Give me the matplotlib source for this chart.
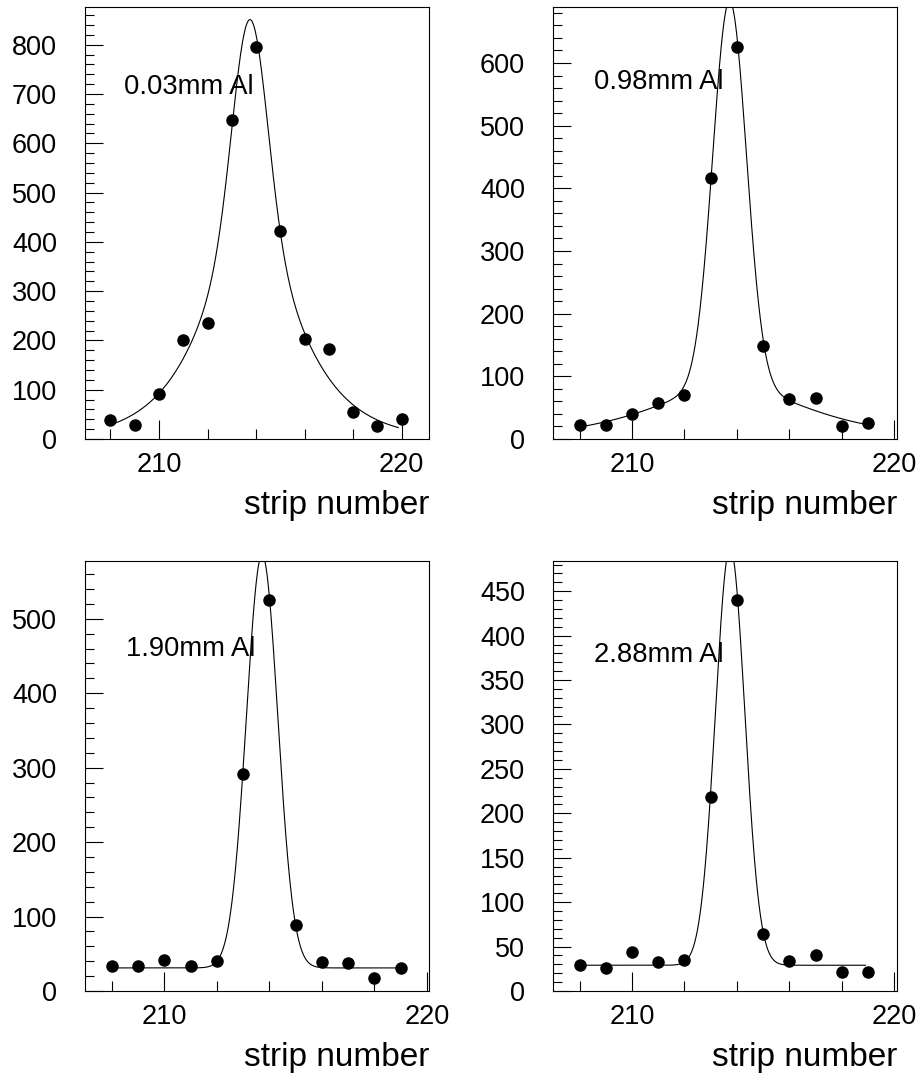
import numpy as np
import matplotlib
matplotlib.use("Agg")
import matplotlib.pyplot as plt
from matplotlib.ticker import MultipleLocator

plt.rcParams['font.family'] = ['Liberation Sans', 'DejaVu Sans']

# strip numbers
strips_long = [208, 209, 210, 211, 212, 213, 214, 215, 216, 217, 218, 219, 220]
strips_short = [208, 209, 210, 211, 212, 213, 214, 215, 216, 217, 218, 219]

# counts per strip for each absorber thickness
counts_003 = [38, 29, 92, 200, 235, 648, 796, 422, 203, 183, 55, 27, 41]
counts_098 = [23, 23, 40, 57, 70, 417, 626, 149, 64, 65, 20, 25]
counts_190 = [34, 33, 42, 33, 40, 291, 525, 89, 39, 37, 17, 31]
counts_288 = [29, 26, 44, 33, 35, 218, 440, 64, 34, 40, 21, 21]

labels = ["0.03mm Al", "0.98mm Al", "1.90mm Al", "2.88mm Al"]
label_y = [700, 559, 450, 370]

# fit: constant + gaussian (amp, mean, sigma) + sech tail (amp, width)
fit_const = [0, 0, 31, 29]
fit_gaus = [(420, 213.75, 0.70), (615, 213.72, 0.64),
            (555, 213.72, 0.60), (470, 213.74, 0.56)]
fit_tail = [(431, 1.69), (84, 2.65), (0, 1.0), (0, 1.0)]
fit_range = [(208, 219.86), (208, 219), (208, 219), (208, 218.9)]

x_limits = [(206.95, 221.15), (206.98, 220.1), (206.97, 220.1), (206.98, 220.1)]
y_major = [100, 100, 100, 50]
y_minor = [20, 20, 20, 10]


def fit_func(x, c, gaus, tail):
    a, mu, s = gaus
    e, lam = tail
    return c + a * np.exp(-(x - mu) ** 2 / (2 * s ** 2)) + e / np.cosh((x - mu) / lam)


def draw_panel(ax, i, strips, counts):
    x = np.linspace(fit_range[i][0], fit_range[i][1], 600)
    ax.plot(x, fit_func(x, fit_const[i], fit_gaus[i], fit_tail[i]),
            color='black', lw=0.8)
    ax.plot(strips, counts, 'o', color='black', ms=8, clip_on=False)

    ax.set_xlim(*x_limits[i])
    ax.set_ylim(0, 1.1 * max(counts))
    ax.xaxis.set_major_locator(MultipleLocator(10))
    ax.xaxis.set_minor_locator(MultipleLocator(2))
    ax.yaxis.set_major_locator(MultipleLocator(y_major[i]))
    ax.yaxis.set_minor_locator(MultipleLocator(y_minor[i]))

    ax.tick_params(which='both', direction='in', top=False, right=False,
                   width=0.8, labelsize=19.5)
    ax.tick_params(axis='y', which='major', length=13, pad=20)
    ax.tick_params(axis='y', which='minor', length=6.5)
    ax.tick_params(axis='x', which='major', length=13.5, pad=9.5)
    ax.tick_params(axis='x', which='minor', length=7)
    for sp in ax.spines.values():
        sp.set_linewidth(0.8)

    ax.text(208.55, label_y[i], labels[i], fontsize=19.7, va='baseline', ha='left')
    ax.set_xlabel("strip number", fontsize=24, loc='right', va='baseline')
    ax.xaxis.set_label_coords(1.0, -0.174)


fig = plt.figure(figsize=(9.22, 10.82), dpi=100)
positions = [[0.0922, 0.5943, 0.3736, 0.3988],
             [0.5995, 0.5943, 0.3734, 0.3988],
             [0.0922, 0.0841, 0.3736, 0.3974],
             [0.5995, 0.0841, 0.3734, 0.3974]]
data = [(strips_long, counts_003), (strips_short, counts_098),
        (strips_short, counts_190), (strips_short, counts_288)]

for i in range(4):
    ax = fig.add_axes(positions[i])
    draw_panel(ax, i, data[i][0], data[i][1])

fig.savefig("out.png", dpi=100)
